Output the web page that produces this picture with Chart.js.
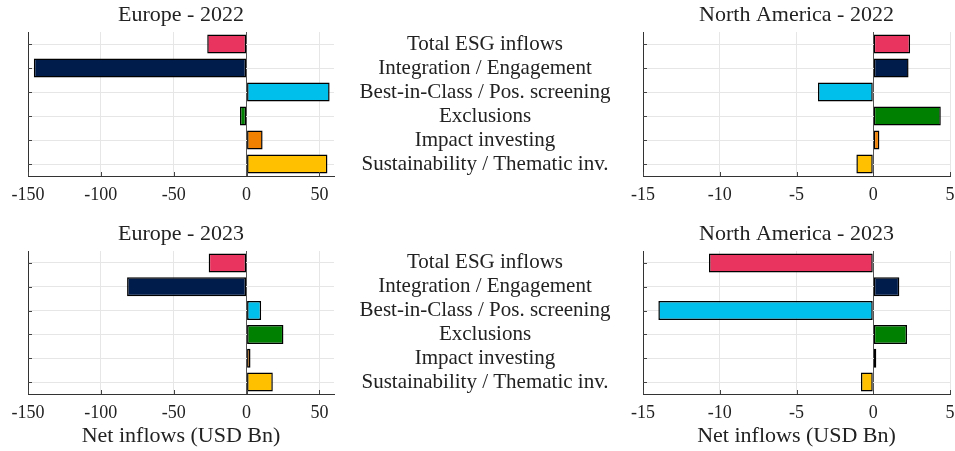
<!DOCTYPE html>
<html>
<head>
<meta charset="utf-8">
<script src="https://cdn.jsdelivr.net/npm/chart.js@4"></script>
<style>
  html, body { margin: 0; padding: 0; background: #fff; }
  #wrap { position: relative; width: 955px; height: 451px; }
  #wrap canvas { position: absolute; left: 0; top: 0; }
</style>
</head>
<body>
<div id="wrap">
  <canvas id="eu22" width="955" height="451"></canvas>
  <canvas id="na22" width="955" height="451"></canvas>
  <canvas id="eu23" width="955" height="451"></canvas>
  <canvas id="na23" width="955" height="451"></canvas>
</div>
<script>
// Strategy categories (top to bottom) and their bar colours
const categories = [
  'Total ESG inflows',
  'Integration / Engagement',
  'Best-in-Class / Pos. screening',
  'Exclusions',
  'Impact investing',
  'Sustainability / Thematic inv.'
];
const categoryColors = ['#E8345E', '#001C4B', '#00BFEA', '#008000', '#F08000', '#FFC000'];

// Net inflows, USD Bn
const europe2022 = [-27, -146, 57, -4.5, 11, 55.5];
const europe2023 = [-26, -82, 10, 25.3, 2.7, 18];
const northAmerica2022 = [2.4, 2.3, -3.6, 4.4, 0.4, -1.1];
const northAmerica2023 = [-10.7, 1.7, -14.0, 2.2, 0.2, -0.8];

// Value axes
const europeTicks = [-150, -100, -50, 0, 50];
const europeRange = [-150, 60];
const northAmericaTicks = [-15, -10, -5, 0, 5];
const northAmericaRange = [-15, 5];

const FONT = '"Liberation Serif", "Times New Roman", serif';
const INK = '#222';
const LABEL_SIZE = 21;
Chart.defaults.font.family = FONT;
Chart.defaults.color = INK;

// Small inward tick marks plus the panel heading
const panelDecor = {
  id: 'panelDecor',
  afterDatasetsDraw(chart, args, opts) {
    const { ctx, chartArea: a, scales } = chart;
    ctx.save();
    ctx.strokeStyle = '#444';
    ctx.lineWidth = 1;
    ctx.beginPath();
    scales.y.ticks.forEach((t, i) => {
      const y = Math.round(scales.y.getPixelForTick(i)) + 0.5;
      ctx.moveTo(a.left, y); ctx.lineTo(a.left + 4, y);
    });
    scales.x.ticks.forEach((t, i) => {
      const x = Math.round(scales.x.getPixelForTick(i)) + 0.5;
      ctx.moveTo(x, a.bottom); ctx.lineTo(x, a.bottom - 4);
    });
    ctx.stroke();
    ctx.fillStyle = INK;
    ctx.font = '22px ' + FONT;
    ctx.textAlign = 'center';
    ctx.textBaseline = 'alphabetic';
    ctx.fillText(opts.text, (a.left + a.right) / 2, a.top - 11);
    ctx.restore();
  }
};

// Width of the widest category label, used to centre the label column
const measureCtx = document.createElement('canvas').getContext('2d');
measureCtx.font = LABEL_SIZE + 'px ' + FONT;
const widestLabel = Math.max(...categories.map(c => measureCtx.measureText(c).width));
const LABEL_CENTER = 485;

function makePanel(id, title, values, ticks, range, box, showLabels, showAxisTitle) {
  const yW = showLabels ? 313 : 0;
  const xH = showAxisTitle ? 55 : 40;
  const labelPad = box.left - LABEL_CENTER - widestLabel / 2;
  return new Chart(document.getElementById(id), {
    type: 'bar',
    data: {
      labels: categories,
      datasets: [{
        data: values,
        backgroundColor: categoryColors,
        borderColor: '#000',
        borderWidth: 1.5,
        borderSkipped: false,
        categoryPercentage: 0.8,
        barPercentage: 1.0
      }]
    },
    options: {
      indexAxis: 'y',
      responsive: false,
      animation: false,
      devicePixelRatio: 1,
      layout: {
        padding: {
          left: box.left - yW,
          top: box.top,
          right: 955 - box.right,
          bottom: 451 - box.bottom - xH
        }
      },
      plugins: {
        legend: { display: false },
        tooltip: { enabled: false },
        panelDecor: { text: title }
      },
      scales: {
        x: {
          type: 'linear',
          min: range[0],
          max: range[1],
          afterBuildTicks: s => { s.ticks = ticks.map(v => ({ value: v })); },
          grid: {
            color: c => (c.tick && c.tick.value === 0) ? '#555' : '#e6e6e6',
            drawTicks: false
          },
          border: { color: '#333', width: 1 },
          ticks: {
            padding: 8,
            font: { size: 18 },
            color: INK,
            maxRotation: 0,
            autoSkip: false,
            callback: v => String(v)
          },
          title: {
            display: showAxisTitle,
            text: 'Net inflows (USD Bn)',
            font: { size: 22 },
            color: INK,
            padding: { top: 0, bottom: 0 }
          },
          afterFit: s => { s.height = xH; s.paddingLeft = 0; s.paddingRight = 0; }
        },
        y: {
          type: 'category',
          offset: true,
          grid: { offset: false, color: '#e6e6e6', drawTicks: false },
          border: { color: '#333', width: 1 },
          ticks: {
            display: showLabels,
            crossAlign: 'center',
            padding: labelPad,
            font: { size: LABEL_SIZE },
            color: INK,
            autoSkip: false
          },
          afterFit: s => { s.width = yW; s.paddingTop = 0; s.paddingBottom = 0; }
        }
      }
    },
    plugins: [panelDecor]
  });
}

makePanel('eu22', 'Europe - 2022', europe2022, europeTicks, europeRange,
  { left: 28, top: 32, right: 334, bottom: 176 }, false, false);
makePanel('na22', 'North America - 2022', northAmerica2022, northAmericaTicks, northAmericaRange,
  { left: 643, top: 32, right: 950, bottom: 176 }, true, false);
makePanel('eu23', 'Europe - 2023', europe2023, europeTicks, europeRange,
  { left: 28, top: 251, right: 334, bottom: 394 }, false, true);
makePanel('na23', 'North America - 2023', northAmerica2023, northAmericaTicks, northAmericaRange,
  { left: 643, top: 251, right: 950, bottom: 394 }, true, true);
</script>
</body>
</html>
